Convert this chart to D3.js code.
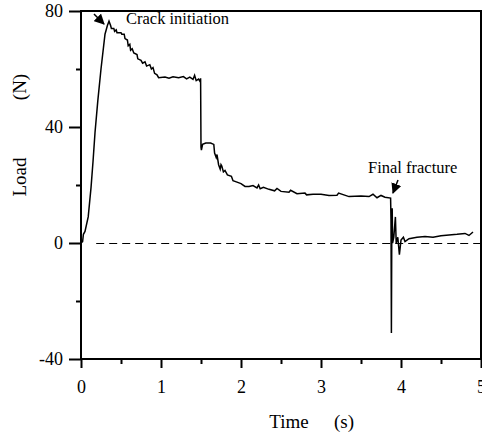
<!DOCTYPE html>
<html>
<head>
<meta charset="utf-8">
<script src="https://cdn.jsdelivr.net/npm/d3@7"></script>
<style>
  body { margin: 0; background: #fff; }
  text { font-family: "Liberation Serif", "Times New Roman", serif; fill: #000; }
</style>
</head>
<body>
<div id="chart"></div>
<script>
// load vs time
const time = [0.00, 0.02, 0.03, 0.05, 0.09, 0.125, 0.15, 0.175, 0.21, 0.25, 0.30, 0.33, 0.35, 0.37, 0.38, 0.41,
  0.42, 0.44, 0.45, 0.50, 0.51, 0.54, 0.55, 0.58, 0.59, 0.61, 0.62, 0.64, 0.66, 0.70, 0.71, 0.75,
  0.77, 0.80, 0.82, 0.86, 0.88, 0.90, 0.92, 0.95, 0.97, 1.05, 1.10, 1.15, 1.22, 1.28, 1.32, 1.36,
  1.40, 1.42, 1.44, 1.47, 1.49, 1.495, 1.50, 1.505, 1.52, 1.56, 1.62, 1.66, 1.67, 1.69, 1.70, 1.72,
  1.74, 1.75, 1.76, 1.78, 1.80, 1.83, 1.88, 1.90, 1.95, 2.00, 2.05, 2.10, 2.15, 2.20, 2.22, 2.24,
  2.28, 2.35, 2.42, 2.45, 2.50, 2.60, 2.62, 2.70, 2.80, 2.82, 2.90, 3.00, 3.10, 3.20, 3.22, 3.35,
  3.50, 3.60, 3.65, 3.70, 3.75, 3.80, 3.87, 3.875, 3.88, 3.885, 3.89, 3.895, 3.91, 3.93, 3.94, 3.96,
  3.98, 4.00, 4.03, 4.05, 4.10, 4.20, 4.30, 4.40, 4.50, 4.60, 4.70, 4.80, 4.85, 4.90];
const load = [0, 0.5, 3, 4, 9, 19, 28, 38, 49, 60, 72, 75, 76.5, 75, 74, 74,
  73, 73.5, 72.5, 72.5, 72, 72, 70.5, 70, 68, 68.5, 66.5, 67, 65.5, 65, 63.5, 63,
  62, 62.5, 61, 61.5, 60, 60.5, 58.5, 58, 57, 57.2, 56.8, 57.3, 57, 57.4, 56.6, 57.2,
  56.4, 57.8, 56, 56.5, 55.6, 56.8, 33, 32, 34, 34.5, 34.5, 34, 31, 29.5, 30.5, 27,
  25.5, 27, 26.5, 24.5, 25, 23.5, 23, 21.5, 21, 20.5, 19.5, 19.5, 19.8, 19, 20, 18.7,
  19.2, 18.5, 18, 18.8, 17.8, 17.5, 18.2, 17, 17.2, 16.6, 16.8, 16.8, 16.4, 16.5, 17.2, 16,
  16.2, 16, 16.8, 15.6, 16.4, 15.8, 15.5, 8, -31, 5, 12, 0, 2, 9, 0, 2,
  -4, 1, 2, 0.5, 1.5, 2, 2.2, 2, 2.5, 2.8, 3, 3.3, 2.6, 3.8];

const xTicks = [0, 1, 2, 3, 4, 5];
const xMinor = [0.5, 1.5, 2.5, 3.5, 4.5];
const yTicks = [-40, 0, 40, 80];
const yMinor = [-20, 20, 60];

const W = 482, H = 438;
const margin = {top: 11, right: 1, bottom: 79, left: 81};
const width = W - margin.left - margin.right;
const height = H - margin.top - margin.bottom;

const svg = d3.select("#chart").append("svg")
  .attr("width", W).attr("height", H);
const g = svg.append("g")
  .attr("transform", "translate(" + margin.left + "," + margin.top + ")");

const x = d3.scaleLinear().domain([0, 5]).range([0, width]);
const y = d3.scaleLinear().domain([-40, 80]).range([height, 0]);

// zero line
g.append("line")
  .attr("x1", x(0.19)).attr("x2", width)
  .attr("y1", y(0) + 0.5).attr("y2", y(0) + 0.5)
  .attr("stroke", "#000").attr("stroke-width", 1)
  .attr("stroke-dasharray", "8,5");

// curve
g.append("path")
  .datum(time.map((t, i) => [t, load[i]]))
  .attr("fill", "none")
  .attr("stroke", "#000")
  .attr("stroke-width", 1.5)
  .attr("d", d3.line().x(d => x(d[0])).y(d => y(d[1])));

// frame
g.append("rect")
  .attr("width", width).attr("height", height)
  .attr("fill", "none").attr("stroke", "#000").attr("stroke-width", 2);

// axes
g.append("g").attr("transform", "translate(0," + height + ")")
  .call(d3.axisBottom(x).tickValues(xTicks).tickSize(9).tickPadding(12).tickFormat(d => String(d)));
g.append("g").attr("transform", "translate(0," + height + ")")
  .call(d3.axisBottom(x).tickValues(xMinor).tickSize(5).tickFormat(""));
g.append("g")
  .call(d3.axisLeft(y).tickValues(yTicks).tickSize(12).tickPadding(6).tickFormat(d => String(d)));
g.append("g")
  .call(d3.axisLeft(y).tickValues(yMinor).tickSize(5).tickFormat(""));

g.selectAll(".domain").remove();
g.selectAll(".tick line").attr("stroke", "#000").attr("stroke-width", 2);
g.selectAll(".tick text")
  .attr("font-family", null).attr("font-size", null)
  .style("font-size", "18px").style("font-family", "'Liberation Serif', serif");

// axis titles
svg.append("text").attr("transform", "translate(26,177) rotate(-90)")
  .attr("text-anchor", "middle").style("font-size", "19px").text("Load");
svg.append("text").attr("transform", "translate(26,87) rotate(-90)")
  .attr("text-anchor", "middle").style("font-size", "19px").text("(N)");
svg.append("text").attr("x", 289).attr("y", 428)
  .attr("text-anchor", "middle").style("font-size", "19px").text("Time");
svg.append("text").attr("x", 344).attr("y", 428)
  .attr("text-anchor", "middle").style("font-size", "19px").text("(s)");

// annotations
svg.append("defs").append("marker")
  .attr("id", "head").attr("viewBox", "0 0 10 10")
  .attr("refX", 9).attr("refY", 5)
  .attr("markerWidth", 7).attr("markerHeight", 7)
  .attr("orient", "auto")
  .append("path").attr("d", "M0,0 L10,5 L0,10 Z").attr("fill", "#000");

svg.append("text").attr("x", 126).attr("y", 24).style("font-size", "16.5px").text("Crack initiation");
svg.append("line")
  .attr("x1", 94).attr("y1", 14).attr("x2", 104).attr("y2", 24)
  .attr("stroke", "#000").attr("stroke-width", 1.5).attr("marker-end", "url(#head)");

svg.append("text").attr("x", 368).attr("y", 173).style("font-size", "16.5px").text("Final fracture");
svg.append("line")
  .attr("x1", 398).attr("y1", 180).attr("x2", 393).attr("y2", 193)
  .attr("stroke", "#000").attr("stroke-width", 1.5).attr("marker-end", "url(#head)");
</script>
</body>
</html>
